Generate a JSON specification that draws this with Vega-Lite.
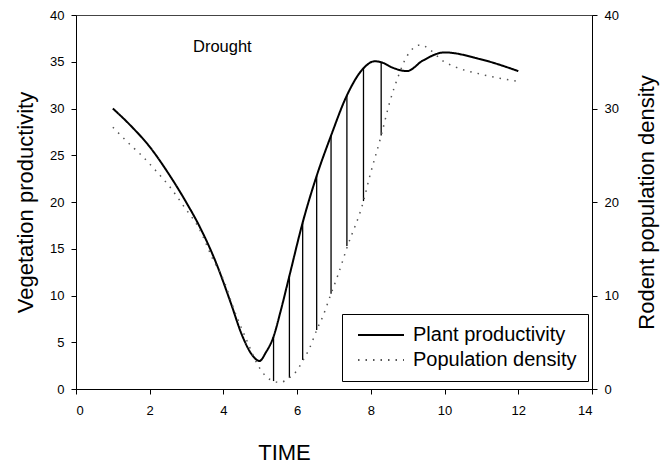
{
  "$schema": "https://vega.github.io/schema/vega-lite/v6.json",
  "width": 516,
  "height": 374,
  "autosize": {"type": "none"},
  "padding": {"left": 76, "top": 15, "right": 78, "bottom": 74},
  "background": "white",
  "config": {
    "view": {"stroke": "#444", "strokeWidth": 1},
    "font": "Liberation Sans",
    "axis": {
      "grid": false,
      "labelFont": "Liberation Sans",
      "labelFontSize": 13,
      "labelColor": "black",
      "tickColor": "black",
      "domainColor": "black",
      "tickSize": 5,
      "labelPadding": 7,
      "titleFont": "Liberation Sans",
      "titleFontSize": 22,
      "titleFontWeight": "normal",
      "titleColor": "black"
    },
    "legend": {
      "title": null, "orient": "none", "legendX": 266, "legendY": 299,
      "symbolType": "M-4.6,0L4.6,0", "symbolSize": 100, "symbolStrokeWidth": 2, "symbolOffset": 18,
      "labelFontSize": 20, "labelFont": "Liberation Sans", "labelColor": "black",
      "labelOffset": 22, "rowPadding": 5, "padding": 11, "labelLimit": 300,
      "strokeColor": "black", "fillColor": "white"
    }
  },
  "layer": [
    {
      "data": {"values": [
        {"time": 1.0, "value": 30.0, "series": "Plant productivity"},
        {"time": 1.5, "value": 28.1, "series": "Plant productivity"},
        {"time": 2.0, "value": 25.9, "series": "Plant productivity"},
        {"time": 2.5, "value": 23.1, "series": "Plant productivity"},
        {"time": 3.0, "value": 19.9, "series": "Plant productivity"},
        {"time": 3.35, "value": 17.4, "series": "Plant productivity"},
        {"time": 3.8, "value": 13.5, "series": "Plant productivity"},
        {"time": 4.2, "value": 9.2, "series": "Plant productivity"},
        {"time": 4.5, "value": 5.8, "series": "Plant productivity"},
        {"time": 4.75, "value": 3.8, "series": "Plant productivity"},
        {"time": 4.98, "value": 3.0, "series": "Plant productivity"},
        {"time": 5.15, "value": 3.9, "series": "Plant productivity"},
        {"time": 5.36, "value": 5.6, "series": "Plant productivity"},
        {"time": 5.55, "value": 8.3, "series": "Plant productivity"},
        {"time": 5.79, "value": 12.1, "series": "Plant productivity"},
        {"time": 6.15, "value": 17.8, "series": "Plant productivity"},
        {"time": 6.53, "value": 22.8, "series": "Plant productivity"},
        {"time": 6.92, "value": 27.1, "series": "Plant productivity"},
        {"time": 7.35, "value": 31.4, "series": "Plant productivity"},
        {"time": 7.8, "value": 34.3, "series": "Plant productivity"},
        {"time": 8.1, "value": 35.05, "series": "Plant productivity"},
        {"time": 8.28, "value": 34.95, "series": "Plant productivity"},
        {"time": 8.6, "value": 34.35, "series": "Plant productivity"},
        {"time": 8.98, "value": 34.0, "series": "Plant productivity"},
        {"time": 9.4, "value": 35.1, "series": "Plant productivity"},
        {"time": 10.0, "value": 36.0, "series": "Plant productivity"},
        {"time": 10.95, "value": 35.3, "series": "Plant productivity"},
        {"time": 12.0, "value": 34.0, "series": "Plant productivity"}
      ]},
      "mark": {"type": "line", "interpolate": "monotone", "strokeWidth": 2},
      "encoding": {
        "x": {"field": "time", "type": "quantitative",
          "scale": {"domain": [0, 14], "nice": false},
          "axis": {"title": "TIME", "values": [0, 2, 4, 6, 8, 10, 12, 14], "labelPadding": 10, "titleX": 208, "titleY": 53}},
        "y": {"field": "value", "type": "quantitative",
          "scale": {"domain": [0, 40], "nice": false},
          "axis": {"orient": "left", "title": "Vegetation productivity", "values": [0, 5, 10, 15, 20, 25, 30, 35, 40], "titlePadding": 12}},
        "color": {"field": "series", "type": "nominal",
          "scale": {"domain": ["Plant productivity", "Population density"], "range": ["black", "#555555"]}},
        "strokeDash": {"field": "series", "type": "nominal",
          "scale": {"domain": ["Plant productivity", "Population density"], "range": [[1, 0], [1.5, 6]]}}
      }
    },
    {
      "data": {"values": [
        {"time": 5.36, "top": 5.6, "bottom": 0.85},
        {"time": 5.79, "top": 12.1, "bottom": 1.2},
        {"time": 6.15, "top": 17.8, "bottom": 3.1},
        {"time": 6.53, "top": 22.8, "bottom": 6.3},
        {"time": 6.92, "top": 27.1, "bottom": 10.2},
        {"time": 7.35, "top": 31.4, "bottom": 15.3},
        {"time": 7.8, "top": 34.3, "bottom": 20.1},
        {"time": 8.28, "top": 34.95, "bottom": 27.1}
      ]},
      "mark": {"type": "rule", "color": "black", "strokeWidth": 1.3},
      "encoding": {
        "x": {"field": "time", "type": "quantitative"},
        "y": {"field": "top", "type": "quantitative", "scale": {"domain": [0, 40], "nice": false}, "axis": null},
        "y2": {"field": "bottom"}
      }
    },
    {
      "data": {"values": [
        {"time": 1.0, "value": 28.0, "series": "Population density"},
        {"time": 1.4, "value": 26.4, "series": "Population density"},
        {"time": 1.8, "value": 24.9, "series": "Population density"},
        {"time": 2.2, "value": 23.2, "series": "Population density"},
        {"time": 2.55, "value": 21.6, "series": "Population density"},
        {"time": 2.95, "value": 19.4, "series": "Population density"},
        {"time": 3.35, "value": 17.1, "series": "Population density"},
        {"time": 3.7, "value": 14.0, "series": "Population density"},
        {"time": 4.03, "value": 11.4, "series": "Population density"},
        {"time": 4.25, "value": 8.9, "series": "Population density"},
        {"time": 4.6, "value": 5.5, "series": "Population density"},
        {"time": 4.98, "value": 2.25, "series": "Population density"},
        {"time": 5.14, "value": 1.4, "series": "Population density"},
        {"time": 5.36, "value": 0.85, "series": "Population density"},
        {"time": 5.52, "value": 0.7, "series": "Population density"},
        {"time": 5.79, "value": 1.2, "series": "Population density"},
        {"time": 6.0, "value": 2.0, "series": "Population density"},
        {"time": 6.15, "value": 3.0, "series": "Population density"},
        {"time": 6.33, "value": 4.3, "series": "Population density"},
        {"time": 6.53, "value": 6.3, "series": "Population density"},
        {"time": 6.7, "value": 7.8, "series": "Population density"},
        {"time": 6.92, "value": 10.2, "series": "Population density"},
        {"time": 7.1, "value": 12.1, "series": "Population density"},
        {"time": 7.35, "value": 15.1, "series": "Population density"},
        {"time": 7.8, "value": 20.1, "series": "Population density"},
        {"time": 7.96, "value": 22.6, "series": "Population density"},
        {"time": 8.28, "value": 27.1, "series": "Population density"},
        {"time": 8.51, "value": 30.65, "series": "Population density"},
        {"time": 8.73, "value": 33.3, "series": "Population density"},
        {"time": 8.98, "value": 35.6, "series": "Population density"},
        {"time": 9.35, "value": 36.8, "series": "Population density"},
        {"time": 9.6, "value": 36.3, "series": "Population density"},
        {"time": 9.95, "value": 35.1, "series": "Population density"},
        {"time": 10.32, "value": 34.4, "series": "Population density"},
        {"time": 10.95, "value": 33.7, "series": "Population density"},
        {"time": 12.0, "value": 32.9, "series": "Population density"}
      ]},
      "mark": {"type": "line", "interpolate": "monotone", "strokeWidth": 1.5},
      "encoding": {
        "x": {"field": "time", "type": "quantitative"},
        "y": {"field": "value", "type": "quantitative",
          "scale": {"domain": [0, 40], "nice": false},
          "axis": {"orient": "right", "title": "Rodent population density", "values": [0, 10, 20, 30, 40], "titleAngle": 270, "titleBaseline": "top", "titlePadding": 18}},
        "color": {"field": "series", "type": "nominal"},
        "strokeDash": {"field": "series", "type": "nominal"}
      }
    },
    {
      "data": {"values": [{"time": 3.97, "value": 36.0, "label": "Drought"}]},
      "mark": {"type": "text", "fontSize": 16.5, "font": "Liberation Sans", "color": "black", "align": "center", "baseline": "alphabetic"},
      "encoding": {
        "x": {"field": "time", "type": "quantitative"},
        "y": {"field": "value", "type": "quantitative", "scale": {"domain": [0, 40], "nice": false}, "axis": null},
        "text": {"field": "label"}
      }
    }
  ],
  "resolve": {"scale": {"y": "independent"}}
}
